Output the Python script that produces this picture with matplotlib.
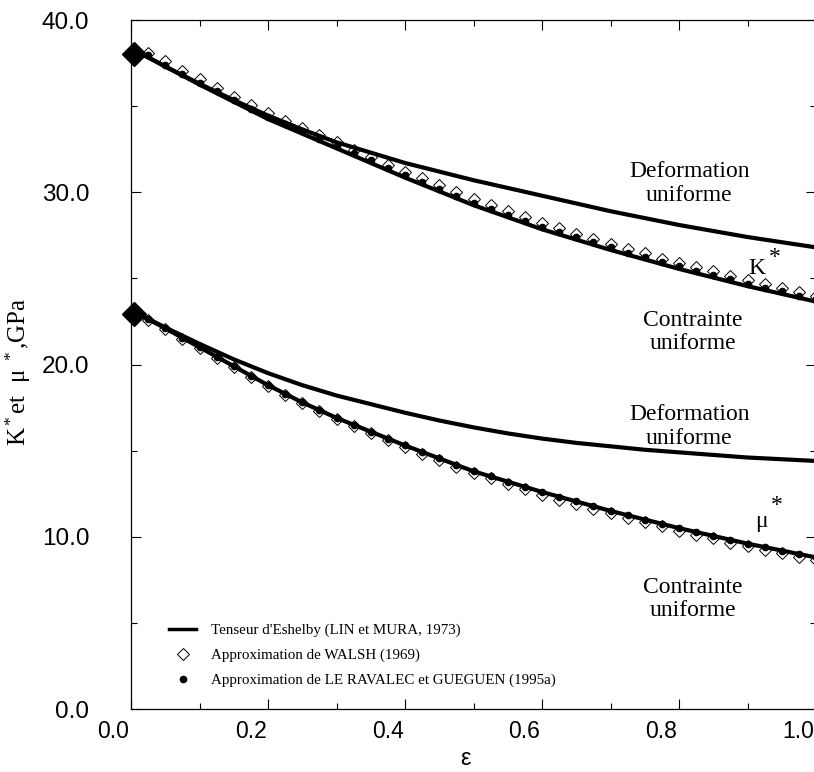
import matplotlib
matplotlib.use('Agg')
import matplotlib.pyplot as plt
from matplotlib.transforms import ScaledTranslation
from matplotlib.lines import Line2D

# Tenseur d'Eshelby (courbes continues)
eps_line = [0.01, 0.05, 0.10, 0.15, 0.20, 0.25, 0.30, 0.35, 0.40, 0.45, 0.50,
            0.55, 0.60, 0.65, 0.70, 0.75, 0.80, 0.85, 0.90, 0.95, 1.00]
K_contrainte = [38.15, 37.3, 36.25, 35.25, 34.25, 33.4, 32.55, 31.7, 30.85, 30.05, 29.25,
                28.55, 27.85, 27.25, 26.65, 26.1, 25.55, 25.05, 24.55, 24.1, 23.65]
K_deformation = [38.15, 37.3, 36.3, 35.35, 34.45, 33.65, 32.9, 32.3, 31.7, 31.2, 30.7,
                 30.25, 29.8, 29.35, 28.9, 28.5, 28.1, 27.75, 27.4, 27.1, 26.8]
mu_contrainte = [22.95, 22.1, 21.0, 19.9, 18.8, 17.8, 16.9, 16.1, 15.3, 14.55, 13.8,
                 13.2, 12.6, 12.05, 11.5, 11.0, 10.5, 10.05, 9.6, 9.2, 8.8]
mu_deformation = [22.95, 22.15, 21.2, 20.3, 19.5, 18.8, 18.2, 17.7, 17.2, 16.75, 16.35,
                  16.0, 15.7, 15.45, 15.25, 15.05, 14.9, 14.75, 14.6, 14.5, 14.4]

# approximations (points)
eps_pts = [0.025, 0.05, 0.075, 0.10, 0.125, 0.15, 0.175, 0.20, 0.225, 0.25,
           0.275, 0.30, 0.325, 0.35, 0.375, 0.40, 0.425, 0.45, 0.475, 0.50,
           0.525, 0.55, 0.575, 0.60, 0.625, 0.65, 0.675, 0.70, 0.725, 0.75,
           0.775, 0.80, 0.825, 0.85, 0.875, 0.90, 0.925, 0.95, 0.975, 1.00]
K_ravalec = [37.95, 37.4, 36.85, 36.35, 35.85, 35.35, 34.85, 34.35, 33.95, 33.55,
             33.1, 32.7, 32.25, 31.85, 31.4, 31.0, 30.6, 30.2, 29.8, 29.4,
             29.05, 28.7, 28.35, 28.0, 27.7, 27.4, 27.1, 26.8, 26.5, 26.25,
             25.95, 25.7, 25.45, 25.2, 24.95, 24.7, 24.45, 24.25, 24.0, 23.8]
K_walsh = [38.1, 37.6, 37.05, 36.55, 36.05, 35.55, 35.05, 34.6, 34.15, 33.75,
           33.3, 32.9, 32.45, 32.05, 31.6, 31.2, 30.8, 30.4, 30.0, 29.6,
           29.25, 28.9, 28.55, 28.2, 27.9, 27.6, 27.3, 27.0, 26.7, 26.45,
           26.15, 25.9, 25.65, 25.4, 25.15, 24.9, 24.65, 24.45, 24.2, 24.0]
mu_ravalec = [22.65, 22.1, 21.55, 21.0, 20.45, 19.9, 19.35, 18.8, 18.3, 17.8,
              17.35, 16.9, 16.5, 16.1, 15.7, 15.3, 14.92, 14.55, 14.17, 13.8,
              13.5, 13.2, 12.9, 12.6, 12.32, 12.05, 11.77, 11.5, 11.25, 11.0,
              10.75, 10.5, 10.27, 10.05, 9.82, 9.6, 9.4, 9.2, 9.0, 8.8]
mu_walsh = [22.6, 22.05, 21.5, 20.95, 20.4, 19.85, 19.3, 18.75, 18.25, 17.75,
            17.3, 16.85, 16.45, 16.0, 15.6, 15.2, 14.8, 14.45, 14.05, 13.7,
            13.4, 13.05, 12.75, 12.45, 12.15, 11.9, 11.6, 11.35, 11.1, 10.85,
            10.6, 10.35, 10.1, 9.9, 9.65, 9.45, 9.25, 9.05, 8.85, 8.65]

# premier point (gros losange noir)
eps_start = [0.005]
K_start = [38.05]
mu_start = [22.95]

serif = 'Liberation Serif'
sans = 'Liberation Sans'
plt.rcParams['mathtext.fontset'] = 'custom'
plt.rcParams['mathtext.rm'] = serif
plt.rcParams['mathtext.it'] = serif + ':italic'

fig = plt.figure(figsize=(8.14, 7.72), dpi=100)
ax = fig.add_axes([131 / 814, 1 - 709 / 772, 685 / 814, 689 / 772])

# Walsh (losanges ouverts)
ax.plot(eps_pts, K_walsh, ls='none', marker='D', ms=6, mfc='white', mec='black', mew=0.7, zorder=1)
ax.plot(eps_pts, mu_walsh, ls='none', marker='D', ms=6, mfc='white', mec='black', mew=0.7, zorder=1)

# Eshelby
for yv in [K_contrainte, K_deformation, mu_contrainte, mu_deformation]:
    ax.plot(eps_line, yv, color='black', lw=3, zorder=2, solid_capstyle='butt')

# Le Ravalec (points)
ax.plot(eps_pts, K_ravalec, ls='none', marker='o', ms=4.5, color='black', zorder=3)
ax.plot(eps_pts, mu_ravalec, ls='none', marker='o', ms=4.5, color='black', zorder=3)

ax.plot(eps_start, K_start, ls='none', marker='D', ms=12, color='black', zorder=4, clip_on=False)
ax.plot(eps_start, mu_start, ls='none', marker='D', ms=12, color='black', zorder=4, clip_on=False)

ax.set_xlim(0, 1.0)
ax.set_ylim(0, 40)
ax.set_xticks([0.0, 0.2, 0.4, 0.6, 0.8, 1.0])
ax.set_xticks([0.1, 0.3, 0.5, 0.7, 0.9], minor=True)
ax.set_yticks([0, 10, 20, 30, 40])
ax.set_yticks([5, 15, 25, 35], minor=True)
ax.set_xticklabels(['0.0', '0.2', '0.4', '0.6', '0.8', '1.0'])
ax.set_yticklabels(['0.0', '10.0', '20.0', '30.0', '40.0'])
ax.tick_params(which='both', direction='in', top=True, right=True, width=0.8)
ax.tick_params(which='major', length=7)
ax.tick_params(which='minor', length=4)
ax.tick_params(axis='x', pad=8, labelsize=16.5)
ax.tick_params(axis='y', pad=30, labelsize=17.5)
for lab in ax.get_xticklabels() + ax.get_yticklabels():
    lab.set_family(sans)
for lab in ax.get_xticklabels():
    lab.set_transform(lab.get_transform() + ScaledTranslation(-0.175, 0, fig.dpi_scale_trans))
for side in ['left', 'bottom', 'top']:
    ax.spines[side].set_linewidth(0.9)
ax.spines['right'].set_visible(False)

ax.set_xlabel('ε', fontsize=17, family=sans)
ax.xaxis.set_label_coords(0.488, -0.057)
ax.set_ylabel('K$^*$et  μ $^*$,GPa', fontsize=18, family=serif)
ax.yaxis.set_label_coords(-0.143, 0.49)

tk = dict(fontsize=17, family=serif, ha='center', va='center', linespacing=1.15)
ax.text(0.815, 30.5, 'Deformation\nuniforme', **tk)
ax.text(0.82, 21.9, 'Contrainte\nuniforme', **tk)
ax.text(0.815, 16.4, 'Deformation\nuniforme', **tk)
ax.text(0.82, 6.4, 'Contrainte\nuniforme', **tk)
ax.text(0.914, 25.6, 'K', **tk)
ax.text(0.940, 26.2, '*', **tk)
ax.text(0.921, 10.9, 'μ', **tk)
ax.text(0.943, 11.8, '*', **tk)

handles = [Line2D([], [], color='black', lw=2.5),
           Line2D([], [], ls='none', marker='D', ms=6, mfc='white', mec='black', mew=0.7),
           Line2D([], [], ls='none', marker='o', ms=4.5, color='black')]
labels = ["Tenseur d'Eshelby (LIN et MURA, 1973)",
          'Approximation de WALSH (1969)',
          'Approximation de LE RAVALEC et GUEGUEN (1995a)']
ax.legend(handles, labels, loc='lower left', bbox_to_anchor=(0.036, 0.012), frameon=False,
          prop={'family': serif, 'size': 10.8}, handlelength=1.8, handletextpad=1.0,
          labelspacing=0.75)

fig.savefig('out.png', dpi=100)
